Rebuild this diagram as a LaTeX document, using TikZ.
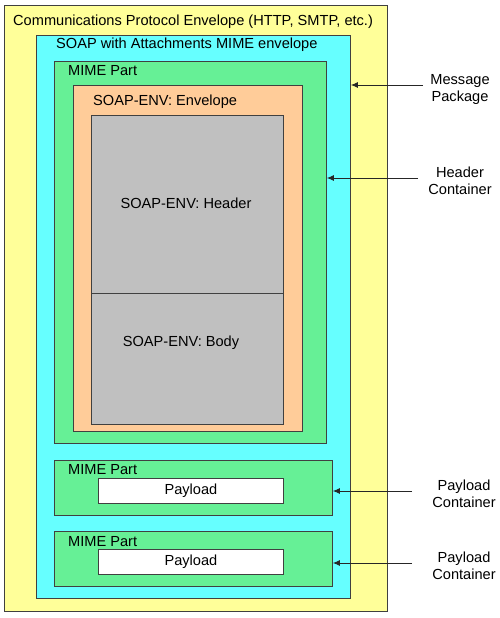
\documentclass[tikz,border=0pt]{standalone}
\usepackage{fontspec}
\setmainfont{Liberation Sans}
\usetikzlibrary{arrows.meta}
\definecolor{cYellow}{HTML}{FFFF99}
\definecolor{cCyan}{HTML}{66FFFF}
\definecolor{cGreen}{HTML}{66F096}
\definecolor{cOrange}{HTML}{FFCC99}
\definecolor{cGray}{HTML}{C0C0C0}
\definecolor{cLine}{HTML}{404040}
\tikzset{
  box/.style={draw=cLine, line width=0.9pt, rectangle, inner sep=0pt, anchor=north west},
  lbl/.style={anchor=west, inner sep=0pt, font=\fontsize{14.6}{17}\selectfont, text=black},
  side/.style={align=center, inner sep=0pt, font=\fontsize{14.6}{17}\selectfont, text=black},
  arr/.style={draw=black!85, line width=0.8pt, -{Latex[length=7pt,width=6pt]}}
}
\begin{document}
\begin{tikzpicture}[x=1pt,y=-1pt]
\useasboundingbox (0,0) rectangle (500,618);
% boxes
\node[box, fill=cYellow, minimum width=383pt, minimum height=606pt] (proto) at (4,5) {};
\node[box, fill=cCyan, minimum width=314pt, minimum height=563pt] (soap) at (36,35) {};
\node[box, fill=cGreen, minimum width=272pt, minimum height=382pt] (mime1) at (54,61) {};
\node[box, fill=cOrange, minimum width=229pt, minimum height=346pt] (env) at (73,85) {};
\node[box, fill=cGray, minimum width=192pt, minimum height=178pt] (hdr) at (91,115) {};
\node[box, fill=cGray, minimum width=192pt, minimum height=131pt] (body) at (91,293) {};
\node[box, fill=cGreen, minimum width=278pt, minimum height=55pt] (mime2) at (54,460) {};
\node[box, fill=white, minimum width=185pt, minimum height=25pt] (pay1) at (98,478) {};
\node[box, fill=cGreen, minimum width=278pt, minimum height=55pt] (mime3) at (54,531) {};
\node[box, fill=white, minimum width=185pt, minimum height=25pt] (pay2) at (98,549) {};
% labels
\node[lbl] (tproto) at (13,22) {Communications Protocol Envelope (HTTP, SMTP, etc.)};
\node[lbl] (tsoap) at (56,45) {SOAP with Attachments MIME envelope};
\node[lbl] (tmime1) at (68,71) {MIME Part};
\node[lbl] (tenv) at (93,102) {SOAP-ENV: Envelope};
\node[side] (thdr) at (186,203) {SOAP-ENV: Header};
\node[side] (tbody) at (181,343) {SOAP-ENV: Body};
\node[lbl] (tmime2) at (68,470) {MIME Part};
\node[side] (tpay1) at (pay1.center) {Payload};
\node[lbl] (tmime3) at (68,542) {MIME Part};
\node[side] (tpay2) at (pay2.center) {Payload};
% side labels
\node[side] (msg) at (460,89) {Message\\Package};
\node[side] (hc) at (460,181) {Header\\Container};
\node[side] (pc1) at (464,494) {Payload\\Container};
\node[side] (pc2) at (464,566) {Payload\\Container};
% arrows
\coordinate (a1) at (423,85);
\coordinate (a2) at (418,178);
\coordinate (a3) at (412,491);
\coordinate (a4) at (412,563);
\draw[arr] (a1) -- (soap.east |- a1);
\draw[arr] (a2) -- (mime1.east |- a2);
\draw[arr] (a3) -- (mime2.east |- a3);
\draw[arr] (a4) -- (mime3.east |- a4);
\end{tikzpicture}
\end{document}
